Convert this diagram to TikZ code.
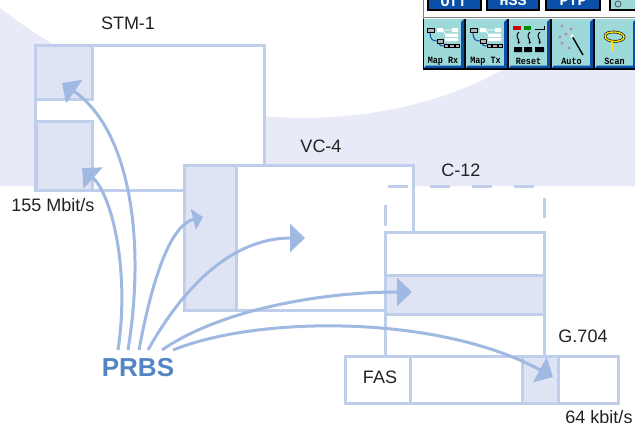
\documentclass[tikz,border=0pt]{standalone}
\usepackage{fontspec}
\setmainfont{Liberation Sans}
\newfontfamily\pixfont{Liberation Mono}
\usetikzlibrary{arrows.meta}
\definecolor{bgc}{HTML}{E8EBF7}
\definecolor{linec}{HTML}{BFCFEB}
\definecolor{fillc}{HTML}{DEE4F4}
\definecolor{arrc}{HTML}{A0B9E2}
\definecolor{prbsc}{HTML}{5384C4}
\definecolor{txtc}{HTML}{222222}
\definecolor{tealc}{HTML}{9ED9DA}
\definecolor{btnb}{HTML}{0A50A8}
\tikzset{
 x=1pt,y=-1pt,
 whitebox/.style={draw=linec,line width=3pt,fill=white,rectangle,inner sep=0pt,outer sep=0pt,anchor=north west},
 tintbox/.style={whitebox,fill=fillc},
 lab/.style={text=txtc,font=\fontsize{18}{20}\selectfont,inner sep=0pt},
 feed/.style={draw=arrc,line width=3pt},
 headL/.style={-{Triangle[length=15pt,width=28pt]}},
 headS/.style={-{Triangle[length=10pt,width=21pt]}},
 guide/.style={draw=linec,line width=3pt,dash pattern=on 20pt off 22pt},
 guidev/.style={draw=linec,line width=3pt},
 btntext/.style={text=black,font=\pixfont\bfseries\fontsize{9.6}{10}\selectfont,inner sep=0pt},
 topbtn/.style={draw=black,line width=2pt,fill=btnb},
}
\newcommand{\lowerbtn}[3]{%
 \fill[black] (#1-1,19) rectangle (#1+#2+2,70);
 \fill[tealc] (#1,19) rectangle (#1+#2,68);
 \fill[btnb] (#1+#2-3,22) -- (#1+#2,19) -- (#1+#2,68) -- (#1,68) -- (#1+2,65.5) -- (#1+#2-3,65.5) -- cycle;
 \node[btntext] (#3) at (#1+#2/2-1,61) {\scalebox{.88}[1]{#3}};
}
\newcommand{\mapicon}[1]{%
 \begin{scope}[xshift=#1pt]
 \draw[btnb,line width=1pt] (7,32) .. controls (7,40) and (10,41) .. (14,41);
 \draw[btnb,line width=1pt] (16,43) .. controls (16,46) and (18,46) .. (21,46);
 \fill[white] (14,28) rectangle (20,32) (29,28) rectangle (35,32) (22,33.5) rectangle (35,37) (22,38) rectangle (35,41);
 \draw[white,line width=.8pt] (20,30) -- (29,30) (19,30) -- (24,36);
 \draw[black,fill=gray!60,line width=.8pt] (4,28) rectangle (11,32);
 \draw[black,fill=gray!60,line width=.8pt] (14,39.5) rectangle (20,43);
 \draw[black,fill=gray!60,line width=.8pt] (21,44.5) rectangle (25.5,47.5) (26.5,44.5) rectangle (31,47.5) (32,44.5) rectangle (36,47.5);
 \end{scope}
}
\begin{document}
\begin{tikzpicture}
\useasboundingbox (0,0) rectangle (635,423);
\fill[white] (0,0) rectangle (635,423);
% backdrop
\fill[bgc] (0,8) .. controls (60,55) and (170,117) .. (300,118) .. controls (390,118) and (470,95) .. (535,50) -- (635,50) -- (635,186) -- (0,186) -- cycle;
% control panel
\begin{scope}
\clip (423,0) rectangle (635,71);
\fill[white] (423,0) rectangle (635,70);
\draw[gray,line width=1pt] (423.5,0) -- (423.5,70);
\draw[gray,line width=1pt] (423,17.5) -- (635,17.5);
\draw[topbtn] (428,-8) rectangle (481,10);
\draw[topbtn] (487,-8) rectangle (539,10);
\draw[topbtn] (546,-8) rectangle (600,10);
\draw[black,line width=2pt,fill=tealc] (610,-8) rectangle (640,10);
\draw[gray!80!black,line width=1pt] (618,4) circle (3);
\begin{scope}
\clip (428,0) rectangle (600,8);
\node[text=white,font=\pixfont\bfseries\fontsize{15}{15}\selectfont,inner sep=0pt] (topa) at (454,1) {Off};
\node[text=white,font=\pixfont\bfseries\fontsize{15}{15}\selectfont,inner sep=0pt] (topb) at (513,1) {HSS};
\node[text=white,font=\pixfont\bfseries\fontsize{15}{15}\selectfont,inner sep=0pt] (topc) at (573,1) {PTP};
\end{scope}
\lowerbtn{424}{40}{Map Rx}
\lowerbtn{466}{41}{Map Tx}
\lowerbtn{509}{41}{Reset}
\lowerbtn{552}{41}{Auto}
\lowerbtn{595}{41}{Scan}
\mapicon{423}
\mapicon{466}
% reset icon
\fill[red!80!black] (513,26) rectangle (521,29.5);
\fill[green!55!black] (524,26) rectangle (531,29.5);
\draw[black,line width=1pt] (535,29) -- (544,29) -- (544,26);
\fill[black] (514,47) rectangle (522,52) (524,47) rectangle (532,52) (535,47) rectangle (544,52);
\foreach \q in {517,528,538}{
 \draw[black,line width=1pt,-{Stealth[length=3pt,width=3pt]}] (\q+2,32) .. controls (\q-3,37) and (\q+3,39) .. (\q+1,44);
}
% auto icon
\foreach \p/\r in {562/26,571/29,560/37,566/34,562/43,569/48}{\fill[violet!50] (\p,\r) circle (1.7);}
\draw[black,line width=1.4pt] (572,36) -- (583,55);
\fill[white] (572,36) circle (1.8);
% scan icon
\draw[black,line width=2.6pt] (605,36) .. controls (605,30) and (624,31) .. (624,37) .. controls (624,43) and (605,43) .. (605,36);
\draw[yellow!85!orange,line width=1.4pt] (605,36) .. controls (605,30) and (624,31) .. (624,37) .. controls (624,43) and (605,43) .. (605,36);
\draw[black,line width=2.2pt] (612,41) -- (612,51);
\draw[yellow!85!orange,line width=1.1pt] (612,41) -- (612,51);
\end{scope}
% frames
\node[whitebox,minimum width=229pt,minimum height=145pt] (stm) at (35,45) {};
\node[tintbox,minimum width=57pt,minimum height=54pt] (soha) at (35,45) {};
\node[tintbox,minimum width=56pt,minimum height=69pt] (sohb) at (36,121) {};
\node[whitebox,minimum width=229pt,minimum height=145pt] (vc) at (184,165) {};
\node[tintbox,minimum width=52pt,minimum height=145pt] (poh) at (184,165) {};
\node[whitebox,minimum width=159pt,minimum height=124pt] (ctw) at (385,232) {};
\node[tintbox,minimum width=159pt,minimum height=39pt] (slot) at (385,275) {};
\node[whitebox,minimum width=273pt,minimum height=47pt] (gframe) at (345,356) {};
\node[whitebox,minimum width=65pt,minimum height=47pt] (fas) at (345,356) {};
\node[tintbox,minimum width=36pt,minimum height=47pt] (ts) at (522,356) {};
% dashed outline
\draw[guide] (388,186) -- (536,186);
\draw[guidev] (385,205) -- (385,226);
\draw[guidev] (544,198) -- (544,218);
% labels
\node[lab] (lstm) at (128,23) {STM-1};
\node[lab] (lvc) at (321,146) {VC-4};
\node[lab] (lc) at (461,170) {C-12};
\node[lab] (lg) at (583,336) {G.704};
\node[lab] (lfas) at (380,377) {FAS};
\node[lab] (l155) at (53,205) {155 Mbit/s};
\node[lab] (l64) at (599,417) {64 kbit/s};
\node[text=prbsc,font=\bfseries\fontsize{26}{28}\selectfont,inner sep=0pt] (prbs) at (138,368) {PRBS};
% connector ends
\coordinate (s1) at (128,350); \coordinate (t1) at (62,83);
\coordinate (s2) at (118,350); \coordinate (t2) at (82,168);
\coordinate (s3) at (139,350); \coordinate (t3) at (203,217);
\coordinate (s4) at (148,350); \coordinate (t4) at (305,238);
\coordinate (s5) at (162,350); \coordinate (t5) at (412,292);
\coordinate (s6) at (173,350); \coordinate (t6) at (553,377);
\draw[feed,headL] (s1) .. controls (146,240) and (130,130) .. (t1);
\draw[feed,headL] (s2) .. controls (130,270) and (112,195) .. (t2);
\draw[feed,headS] (s3) .. controls (152,280) and (170,225) .. (t3);
\draw[feed,headL] (s4) .. controls (190,275) and (240,238) .. (t4);
\draw[feed,headL] (s5) .. controls (220,310) and (320,292) .. (t5);
\draw[feed,headL] (s6) .. controls (260,315) and (440,315) .. (t6);
\end{tikzpicture}
\end{document}
